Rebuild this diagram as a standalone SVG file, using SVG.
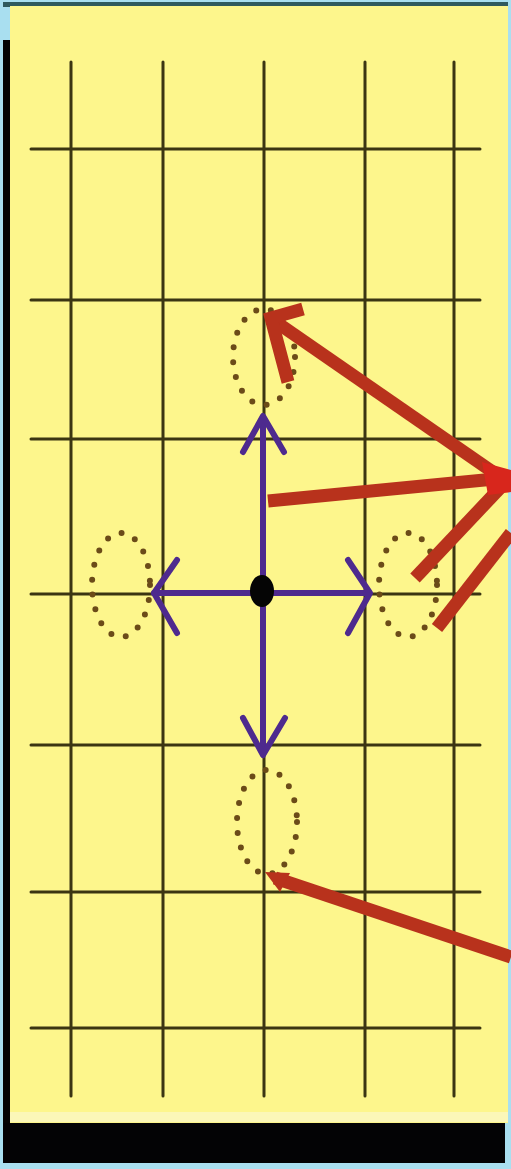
<svg xmlns="http://www.w3.org/2000/svg" width="511" height="1169" viewBox="0 0 511 1169">
<style>
.grid line{stroke:#3b3512;stroke-width:3;stroke-linecap:round}
.ring{fill:none;stroke:#6b4b18;stroke-width:6;stroke-linecap:round;stroke-dasharray:0 15}
.purple{fill:none;stroke:#4e2a8e;stroke-width:6;stroke-linecap:round;stroke-linejoin:round}
.red{fill:none;stroke:#b8321c;stroke-width:13;stroke-linecap:butt;stroke-linejoin:miter}
</style>
<rect x="0" y="0" width="511" height="1169" fill="#a9dff0"/>
<rect x="3" y="2" width="505" height="5" fill="#2f5a5e"/>
<rect x="3" y="40" width="8" height="1123" fill="#050505"/>
<rect x="10" y="6" width="498" height="1117" fill="#fdf68c"/>
<rect x="10" y="1112" width="498" height="10" fill="#fbf7b8"/>
<rect x="3" y="1123" width="502" height="40" fill="#030305"/>
<g id="grid" class="grid">
<line x1="71" y1="62" x2="71" y2="1096"/>
<line x1="163" y1="62" x2="163" y2="1096"/>
<line x1="264" y1="62" x2="264" y2="1096"/>
<line x1="365" y1="62" x2="365" y2="1096"/>
<line x1="454" y1="62" x2="454" y2="1096"/>
<line x1="31" y1="149" x2="480" y2="149"/>
<line x1="31" y1="300" x2="480" y2="300"/>
<line x1="31" y1="439" x2="480" y2="439"/>
<line x1="31" y1="594" x2="480" y2="594"/>
<line x1="31" y1="745" x2="480" y2="745"/>
<line x1="31" y1="892" x2="480" y2="892"/>
<line x1="31" y1="1028" x2="480" y2="1028"/>
</g>
<g id="ring-top"><ellipse class="ring" cx="264" cy="357" rx="31" ry="48"/></g>
<g id="ring-left"><ellipse class="ring" cx="121" cy="585" rx="29" ry="52"/></g>
<g id="ring-right"><ellipse class="ring" cx="408" cy="585" rx="29" ry="52"/></g>
<g id="ring-bottom"><ellipse class="ring" cx="267" cy="822" rx="30" ry="52"/></g>
<g id="connectors">
<g id="purple-arrows" class="purple">
<line x1="263" y1="418" x2="263" y2="754"/>
<line x1="154" y1="593" x2="369" y2="593"/>
<polyline points="243,452 263,416 284,452"/>
<polyline points="243,718 263,755 285,718"/>
<polyline points="177,560 154,593 177,633"/>
<polyline points="348,560 370,593 348,633"/>
</g>
<g id="red-arrows">
<line class="red" x1="503" y1="479" x2="276" y2="322"/>
<polyline class="red" points="303,309 271,318 288,382" stroke="#c8281a"/>
<line class="red" x1="505" y1="478" x2="268" y2="501"/>
<line class="red" x1="500" y1="488" x2="415" y2="578"/>
<line class="red" x1="511" y1="533" x2="437" y2="628"/>
<line class="red" x1="275" y1="878" x2="511" y2="957"/>
<polygon points="265,872 290,873 280,892" fill="#b8321c"/>
<polygon points="482,462 511,470 511,492 488,495" fill="#d8261c"/>
</g>
</g>
<g id="center-dot"><ellipse cx="262" cy="591" rx="12" ry="16" fill="#050505"/></g>
</svg>
